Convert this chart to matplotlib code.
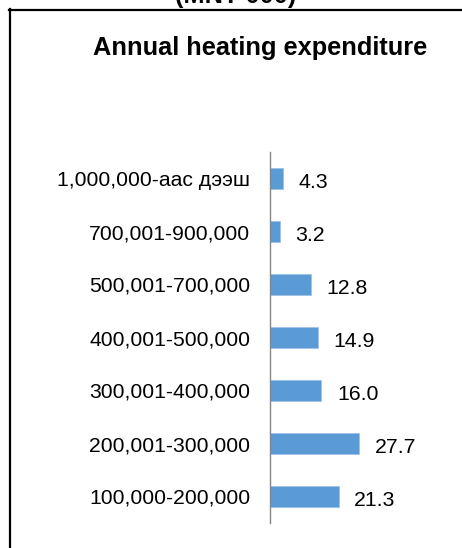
import matplotlib
matplotlib.use("Agg")
import matplotlib.pyplot as plt
from matplotlib.lines import Line2D

plt.rcParams['font.family'] = ['Liberation Sans', 'DejaVu Sans']

categories = [
    "100,000-200,000",
    "200,001-300,000",
    "300,001-400,000",
    "400,001-500,000",
    "500,001-700,000",
    "700,001-900,000",
    "1,000,000-аас дээш",
]
values = [21.3, 27.7, 16.0, 14.9, 12.8, 3.2, 4.3]
value_labels = ["21.3", "27.7", "16.0", "14.9", "12.8", "3.2", "4.3"]

W, H = 462, 548
DPI = 100
fig = plt.figure(figsize=(W / DPI, H / DPI), dpi=DPI)

# axes placed in pixel units
ax_left, ax_right = 269.5, 450.0
ax_top, ax_bottom = 152.0, 523.0
ax = fig.add_axes([ax_left / W, (H - ax_bottom) / H,
                   (ax_right - ax_left) / W, (ax_bottom - ax_top) / H])

px_per_unit = 3.24
ax.set_xlim(0, (ax_right - ax_left) / px_per_unit)
ax.set_ylim(-0.5, len(categories) - 0.5)

bar_color = "#5B9BD5"
ypos = list(range(len(categories)))
ax.barh(ypos, values, height=0.4, color=bar_color, edgecolor="#9DC3E6",
        linewidth=0.6)

for y, v, lab in zip(ypos, values, value_labels):
    ax.annotate(lab, xy=(v, y), xytext=(11.2, -3.0), textcoords="offset points",
                ha="left", va="center", fontsize=15.3, color="#000000")

ax.set_yticks(ypos)
ax.set_yticklabels(categories, fontsize=15.2, color="#000000")
ax.tick_params(axis="y", length=0, pad=14)
ax.set_xticks([])
for side in ["top", "right", "bottom"]:
    ax.spines[side].set_visible(False)
ax.spines["left"].set_color("#868686")
ax.spines["left"].set_linewidth(1.0)

# titles
fig.text(260 / W, (H - 54.5) / H, "Annual heating expenditure",
         ha="center", va="baseline", fontsize=18.3, fontweight="bold")
fig.text(236 / W, (H - 3) / H, "(MNT 000)",
         ha="center", va="baseline", fontsize=18.3, fontweight="bold")

# frame lines
fig.add_artist(Line2D([9 / W, 1.0], [(H - 10) / H, (H - 10) / H],
                      transform=fig.transFigure, color="black", linewidth=1.6))
fig.add_artist(Line2D([10 / W, 10 / W], [(H - 9) / H, 0.0],
                      transform=fig.transFigure, color="black", linewidth=1.6))

fig.savefig("out.png", dpi=DPI)
